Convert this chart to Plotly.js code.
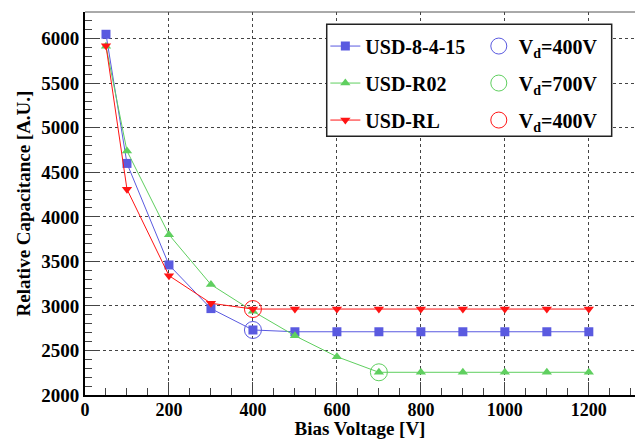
<!DOCTYPE html>
<html><head><meta charset="utf-8">
<script src="https://cdn.plot.ly/plotly-3.0.1.min.js"></script>
<style>
body{margin:0;}
#chart svg text{font-family:'Liberation Serif','Times New Roman',serif !important;font-weight:bold !important;}
</style>
</head>
<body>
<div id="chart"></div>
<script>
// Bias voltage points [V]
const biasVoltage = [50, 100, 200, 300, 400, 500, 600, 700, 800, 900, 1000, 1100, 1200];
// Relative capacitance [A.U.]
const capUSD8415 = [6050, 4600, 3460, 2970, 2730, 2710, 2710, 2710, 2710, 2710, 2710, 2710, 2710];
const capUSDR02  = [5915, 4740, 3800, 3240, 2940, 2665, 2430, 2255, 2255, 2255, 2255, 2255, 2255];
const capUSDRL   = [5920, 4310, 3340, 3030, 2965, 2965, 2965, 2965, 2965, 2965, 2965, 2965, 2965];
// Depletion voltage markers
const depletionNames = ['V<sub>d</sub>=400V', 'V<sub>d</sub>=700V', 'V<sub>d</sub>=400V'];
const depletionX = [400, 700, 400];
const depletionY = [2730, 2255, 2965];
const seriesNames = ['USD-8-4-15', 'USD-R02', 'USD-RL'];
const yTickVals = [2000, 2500, 3000, 3500, 4000, 4500, 5000, 5500, 6000];
const xTickVals = [0, 200, 400, 600, 800, 1000, 1200];

const colors = ['#5a5ae0', '#5fcf5f', '#ff1414'];
const symbols = ['square', 'triangle-up', 'triangle-down'];
const seriesY = [capUSD8415, capUSDR02, capUSDRL];
const F = 'Liberation Serif';

const traces = [];
for (let i = 0; i < 3; i++) {
  traces.push({
    x: biasVoltage, y: seriesY[i], name: seriesNames[i], mode: 'lines+markers',
    line: {color: colors[i], width: 1},
    marker: {color: colors[i], symbol: symbols[i], size: 9},
    legend: 'legend', legendgroup: 'g' + i
  });
}
for (let i = 0; i < 3; i++) {
  traces.push({
    x: [depletionX[i]], y: [depletionY[i]], name: depletionNames[i], mode: 'markers',
    marker: {color: colors[i], symbol: 'circle-open', size: 17, line: {width: 1, color: colors[i]}},
    legend: 'legend2', legendgroup: 'h' + i
  });
}

const layout = {
  width: 635, height: 439,
  margin: {l: 85, r: 0, t: 12, b: 44},
  xaxis: {
    range: [0, 1310], tickvals: xTickVals, ticks: 'inside', ticklen: 13,
    minor: {dtick: 50, ticks: 'inside', ticklen: 7},
    showline: true, linewidth: 2, linecolor: '#000', zeroline: false,
    gridcolor: '#444', griddash: 'dot', ticklabelstandoff: -3,
    tickfont: {family: F, size: 18, weight: 'bold', color: '#000'},
    title: {text: 'Bias Voltage [V]', font: {family: F, size: 19, weight: 'bold', color: '#000'}, standoff: 3}
  },
  yaxis: {
    range: [2000, 6300], tickvals: yTickVals, ticks: 'inside', ticklen: 15,
    minor: {dtick: 100, ticks: 'inside', ticklen: 7},
    showline: true, linewidth: 2, linecolor: '#000', zeroline: false,
    gridcolor: '#444', griddash: 'dot',
    tickfont: {family: F, size: 19, weight: 'bold', color: '#000'},
    title: {text: 'Relative Capacitance [A.U.]', font: {family: F, size: 19, weight: 'bold', color: '#000'}, standoff: 6}
  },
  legend: {
    x: 0.437, y: 0.962, xanchor: 'left', yanchor: 'top', bgcolor: 'rgba(0,0,0,0)',
    font: {family: F, size: 20, weight: 'bold', color: '#000'}, tracegroupgap: 8
  },
  legend2: {
    x: 0.716, y: 0.962, xanchor: 'left', yanchor: 'top', bgcolor: 'rgba(0,0,0,0)',
    font: {family: F, size: 20, weight: 'bold', color: '#000'}, tracegroupgap: 8
  },
  shapes: [
    {type: 'line', xref: 'paper', yref: 'paper', x0: 0, x1: 1, y0: 1, y1: 1, line: {color: '#555', width: 1}, layer: 'above'},
    {type: 'rect', xref: 'paper', yref: 'paper', x0: 0.4395, x1: 0.9576, y0: 0.6755, y1: 0.968,
     fillcolor: '#fff', line: {color: '#222', width: 1.5}, layer: 'above'}
  ]
};

Plotly.newPlot('chart', traces, layout, {displayModeBar: false});
</script></body></html>
